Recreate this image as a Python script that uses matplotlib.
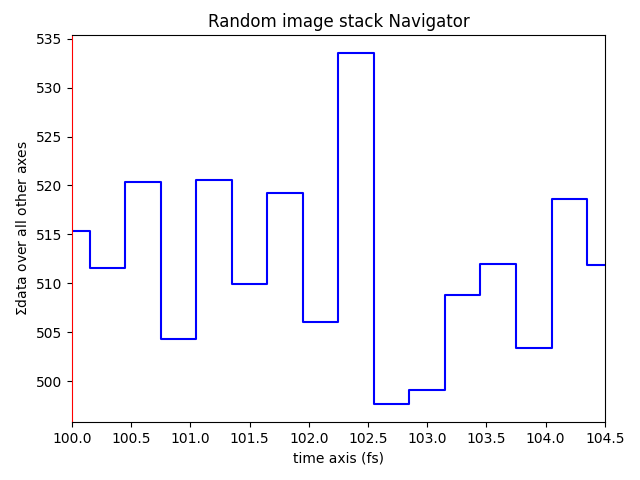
import matplotlib
matplotlib.use('Agg')
import matplotlib.pyplot as plt
import numpy as np

# time axis (fs) and summed signal
times = [100.0, 100.3, 100.6, 100.9, 101.2, 101.5, 101.8, 102.1,
         102.4, 102.7, 103.0, 103.3, 103.6, 103.9, 104.2, 104.5]
values = [515.35, 511.56, 520.36, 504.29, 520.57, 509.92, 519.24, 506.03,
          533.57, 497.64, 499.07, 508.8, 511.97, 503.37, 518.62, 511.87]

fig, ax = plt.subplots(figsize=(6.4, 4.8), dpi=100)
ax.plot(times, values, color='b', drawstyle='steps-mid', linewidth=1.5)
ax.set_xlim(100.0, 104.5)
ax.spines['left'].set_color('red')
ax.set_title('Random image stack Navigator')
ax.set_xlabel('time axis (fs)')
ax.set_ylabel(r'$\Sigma\mathrm{data\ over\ all\ other\ axes}$')
fig.subplots_adjust(left=0.1125, right=0.945, bottom=0.1208, top=0.927)
fig.savefig('out.png')
